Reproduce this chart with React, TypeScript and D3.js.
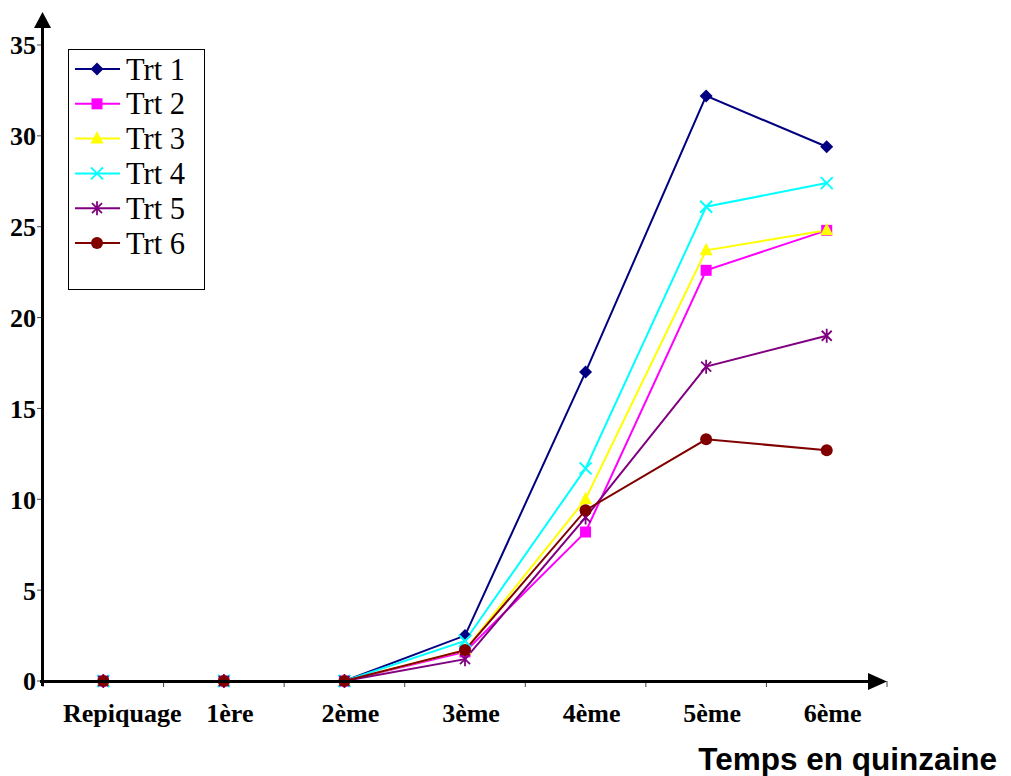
import React from 'react';
import * as d3 from 'd3';

const categories = ['Repiquage', '1ère', '2ème', '3ème', '4ème', '5ème', '6ème'];
const yTicks = [0, 5, 10, 15, 20, 25, 30, 35];

const trt1 = [0, 0, 0, 2.5, 17.0, 32.2, 29.4];
const trt2 = [0, 0, 0, 1.6, 8.2, 22.6, 24.8];
const trt3 = [0, 0, 0, 1.7, 10.0, 23.7, 24.8];
const trt4 = [0, 0, 0, 2.2, 11.7, 26.1, 27.4];
const trt5 = [0, 0, 0, 1.2, 9.0, 17.3, 19.0];
const trt6 = [0, 0, 0, 1.7, 9.4, 13.3, 12.7];

const seriesNames = ['Trt 1', 'Trt 2', 'Trt 3', 'Trt 4', 'Trt 5', 'Trt 6'];
const seriesValues = [trt1, trt2, trt3, trt4, trt5, trt6];
const colors = ['#000080', '#ff00ff', '#ffff00', '#00ffff', '#800080', '#800000'];
const shapes = ['diamond', 'square', 'triangle', 'cross', 'star', 'circle'];

const Marker = ({ shape, x, y, color }) => {
  if (shape === 'diamond') {
    return <path d={`M${x},${y - 6.5} L${x + 6.5},${y} L${x},${y + 6.5} L${x - 6.5},${y} Z`} fill={color} />;
  }
  if (shape === 'square') {
    return <rect x={x - 5.5} y={y - 5.5} width={11} height={11} fill={color} />;
  }
  if (shape === 'triangle') {
    return <path d={`M${x},${y - 7.5} L${x + 6.5},${y + 5} L${x - 6.5},${y + 5} Z`} fill={color} />;
  }
  if (shape === 'cross') {
    return <path d={`M${x - 6},${y - 6} L${x + 6},${y + 6} M${x + 6},${y - 6} L${x - 6},${y + 6}`} stroke={color} strokeWidth={2} />;
  }
  if (shape === 'star') {
    return (
      <path
        d={`M${x - 5},${y - 5} L${x + 5},${y + 5} M${x + 5},${y - 5} L${x - 5},${y + 5} M${x},${y - 7} L${x},${y + 7}`}
        stroke={color}
        strokeWidth={1.8}
      />
    );
  }
  return <circle cx={x} cy={y} r={6} fill={color} />;
};

const App = () => {
  const width = 1011;
  const height = 776;

  const x = d3.scaleBand().domain(categories).range([43, 887]).padding(0);
  const y = d3.scaleLinear().domain([0, 35]).range([681, 45]);
  const cx = c => x(c) + x.bandwidth() / 2;

  const line = d3.line()
    .x((d, i) => cx(categories[i]))
    .y(d => y(d));

  const boundaries = categories.map(c => x(c)).concat([x(categories[categories.length - 1]) + x.bandwidth()]);

  return (
    <div style={{ position: 'absolute', left: 0, top: 0 }}>
      <svg width={width} height={height} style={{ display: 'block', background: '#fff' }}>
        {/* x ticks */}
        {boundaries.map((b, i) => (
          <line key={'xt' + i} x1={b} x2={b} y1={681} y2={687} stroke="#444" strokeWidth={1} />
        ))}
        {/* y ticks */}
        {yTicks.map(t => (
          <g key={'yt' + t}>
            <line x1={37} x2={43} y1={y(t)} y2={y(t)} stroke="#444" strokeWidth={1} />
            <text
              x={36}
              y={y(t)}
              dy="0.36em"
              textAnchor="end"
              fontFamily="'Liberation Serif', serif"
              fontWeight="bold"
              fontSize={26}
            >
              {t}
            </text>
          </g>
        ))}

        {/* series lines */}
        {seriesValues.map((vals, s) => (
          <path key={'l' + s} d={line(vals)} fill="none" stroke={colors[s]} strokeWidth={2} />
        ))}
        {seriesValues.map((vals, s) => (
          <g key={'m' + s}>
            {vals.map((v, i) => (
              <Marker key={i} shape={shapes[s]} x={cx(categories[i])} y={y(v)} color={colors[s]} />
            ))}
          </g>
        ))}

        {/* axes */}
        <line x1={42.5} x2={42.5} y1={22} y2={686} stroke="#000" strokeWidth={3} />
        <path d="M42.5,12 L51,28 L34,28 Z" fill="#000" />
        <line x1={40} x2={872} y1={681.5} y2={681.5} stroke="#000" strokeWidth={3} />
        <path d="M887,681.5 L868,673 L868,690 Z" fill="#000" />

        {/* x labels */}
        {categories.map((c, i) => (
          <text
            key={'xl' + c}
            x={cx(c) + (i === 0 ? 19 : 6)}
            y={722}
            textAnchor="middle"
            fontFamily="'Liberation Serif', serif"
            fontWeight="bold"
            fontSize={26}
          >
            {c}
          </text>
        ))}

        <text
          x={997}
          y={770}
          textAnchor="end"
          fontFamily="'Liberation Sans', Arial, sans-serif"
          fontWeight="bold"
          fontSize={31.5}
        >
          Temps en quinzaine
        </text>

        {/* legend */}
        <rect x={68.5} y={49.5} width={136} height={240} fill="#fff" stroke="#000" strokeWidth={1} />
        {seriesNames.map((n, s) => {
          const ly = 69 + s * 34.8;
          return (
            <g key={'lg' + s}>
              <line x1={75} x2={120} y1={ly} y2={ly} stroke={colors[s]} strokeWidth={2} />
              <Marker shape={shapes[s]} x={97} y={ly} color={colors[s]} />
              <text
                x={126}
                y={ly}
                dy="0.35em"
                fontFamily="'Liberation Serif', serif"
                fontSize={30.5}
              >
                {n}
              </text>
            </g>
          );
        })}
      </svg>
    </div>
  );
};

export default App;
